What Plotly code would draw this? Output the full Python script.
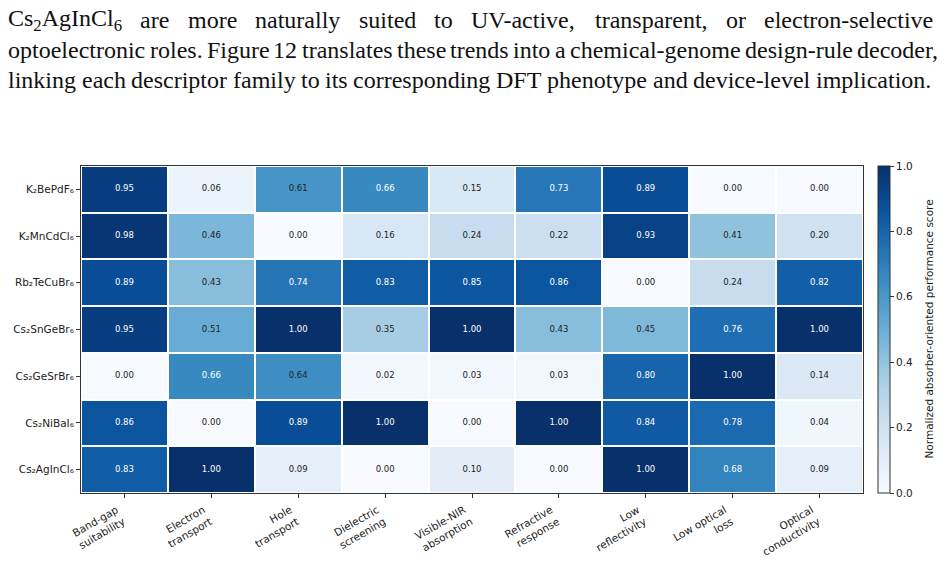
import plotly.graph_objects as go

# ---- data ----
materials = ["K₂BePdF₆", "K₂MnCdCl₆", "Rb₂TeCuBr₆", "Cs₂SnGeBr₆",
             "Cs₂GeSrBr₆", "Cs₂NiBaI₆", "Cs₂AgInCl₆"]
metrics = ["Band-gap<br>suitability", "Electron<br>transport", "Hole<br>transport",
           "Dielectric<br>screening", "Visible-NIR<br>absorption", "Refractive<br>response",
           "Low<br>reflectivity", "Low optical<br>loss", "Optical<br>conductivity"]
scores = [
    [0.95, 0.06, 0.61, 0.66, 0.15, 0.73, 0.89, 0.00, 0.00],
    [0.98, 0.46, 0.00, 0.16, 0.24, 0.22, 0.93, 0.41, 0.20],
    [0.89, 0.43, 0.74, 0.83, 0.85, 0.86, 0.00, 0.24, 0.82],
    [0.95, 0.51, 1.00, 0.35, 1.00, 0.43, 0.45, 0.76, 1.00],
    [0.00, 0.66, 0.64, 0.02, 0.03, 0.03, 0.80, 1.00, 0.14],
    [0.86, 0.00, 0.89, 1.00, 0.00, 1.00, 0.84, 0.78, 0.04],
    [0.83, 1.00, 0.09, 0.00, 0.10, 0.00, 1.00, 0.68, 0.09],
]
cbar_ticks = [0.0, 0.2, 0.4, 0.6, 0.8, 1.0]
cbar_title = "Normalized absorber-oriented performance score"

para_lines = [
    "Cs₂AgInCl₆ are more naturally suited to UV-active, transparent, or electron-selective",
    "optoelectronic roles. Figure 12 translates these trends into a chemical-genome design-rule decoder,",
    "linking each descriptor family to its corresponding DFT phenotype and device-level implication.",
]

blues = ["#f7fbff", "#deebf7", "#c6dbef", "#9ecae1", "#6baed6",
         "#4292c6", "#2171b5", "#08519c", "#08306b"]
colorscale = [[i / 8, c] for i, c in enumerate(blues)]

W, H = 947, 561
L, R, T, B = 81, 84, 166, 68
pw, ph = W - L - R, H - T - B


def px_x(p):
    return (p - L) / pw


def px_y(p):
    return (H - B - p) / ph


fig = go.Figure()
fig.add_trace(go.Heatmap(
    z=scores, x=metrics, y=materials, colorscale=colorscale, zmin=0, zmax=1,
    xgap=2, ygap=2, hoverinfo="skip",
    colorbar=dict(
        x=px_x(878), xanchor="left", y=0.5, yanchor="middle", len=1, lenmode="fraction",
        thickness=12, outlinewidth=1, outlinecolor="#333", xpad=0, ypad=0,
        tickvals=cbar_ticks, ticktext=[f"{v:.1f}" for v in cbar_ticks],
        ticks="outside", ticklen=4, tickcolor="#333",
        tickfont=dict(family="DejaVu Sans", size=10.5, color="#222"),
    ),
))

xs, ys, ts, cs = [], [], [], []
for i, m in enumerate(materials):
    for j, k in enumerate(metrics):
        v = scores[i][j]
        xs.append(k); ys.append(m); ts.append(f"{v:.2f}")
        cs.append("white" if v > 0.65 else "#222")
fig.add_trace(go.Scatter(x=xs, y=ys, text=ts, mode="text",
                         textfont=dict(family="DejaVu Sans", size=8.5, color=cs),
                         hoverinfo="skip", showlegend=False))

fig.update_xaxes(tickangle=-30, showline=True, mirror=True, linecolor="#333", linewidth=1,
                 ticks="outside", ticklen=4, tickcolor="#333", ticklabelshift=-8,
                 ticklabelstandoff=2,
                 tickfont=dict(family="DejaVu Sans", size=10.5, color="#222"), showgrid=False)
fig.update_yaxes(autorange="reversed", showline=True, mirror=True, linecolor="#333", linewidth=1,
                 ticks="outside", ticklen=4, tickcolor="#333",
                 tickfont=dict(family="DejaVu Sans", size=10.5, color="#222"), showgrid=False)

fig.add_annotation(text=cbar_title, x=px_x(928), y=0.5, xref="paper", yref="paper",
                   textangle=-90, showarrow=False, xanchor="center", yanchor="middle",
                   font=dict(family="DejaVu Sans", size=10.5, color="#222"))

# ---- justified serif paragraph (Times / Liberation Serif metrics) ----
TW = {' ': 250, ',': 250, '-': 333, '.': 250, '0': 500, '1': 500, '2': 500, '6': 500,
      'A': 722, 'C': 667, 'D': 722, 'F': 556, 'I': 333, 'T': 611, 'U': 722, 'V': 722,
      'a': 444, 'b': 500, 'c': 444, 'd': 500, 'e': 444, 'f': 333, 'g': 500, 'h': 500,
      'i': 278, 'j': 278, 'k': 500, 'l': 278, 'm': 778, 'n': 500, 'o': 500, 'p': 500,
      'q': 500, 'r': 333, 's': 389, 't': 278, 'u': 500, 'v': 500, 'w': 722, 'x': 500,
      'y': 500, 'z': 444, '₂': 350, '₆': 350}
FS = 24


def word_markup(w):
    return w.replace("₂", "<sub>2</sub>").replace("₆", "<sub>6</sub>")


def word_width(w):
    return sum(TW.get(ch, 500) for ch in w) * FS / 1000.0


line_spans = [(7, 932), (7, 938), (7, 930)]
line_ys = [20, 50, 80]
serif = dict(family="Liberation Serif", size=FS, color="#111")
for text, (x0, x1), yy in zip(para_lines, line_spans, line_ys):
    words = text.split(" ")
    widths = [word_width(w) for w in words]
    gap = (x1 - x0 - sum(widths)) / (len(words) - 1)
    cx = x0
    for w, wd in zip(words, widths):
        fig.add_annotation(text=word_markup(w), x=px_x(cx), y=px_y(yy), xref="paper",
                           yref="paper", xanchor="left", yanchor="middle", showarrow=False,
                           font=serif, borderpad=0)
        cx += wd + gap

fig.update_layout(width=W, height=H, margin=dict(l=L, r=R, t=T, b=B, autoexpand=False),
                  paper_bgcolor="white", plot_bgcolor="white", showlegend=False)
fig.write_html("out.html")
